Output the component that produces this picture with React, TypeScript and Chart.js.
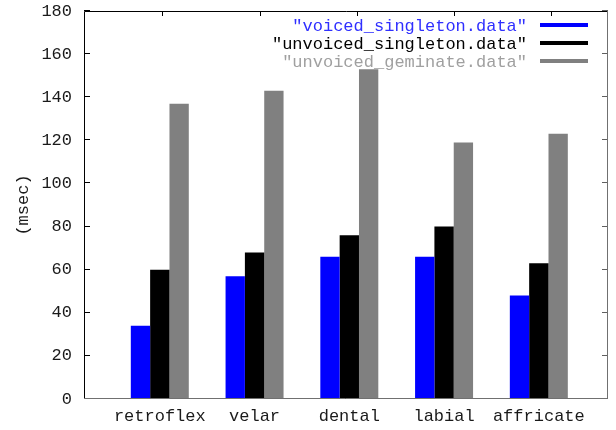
import React, { useEffect, useRef } from 'react';
import { Chart, registerables } from 'chart.js';

Chart.register(...registerables);

const categories = ['retroflex', 'velar', 'dental', 'labial', 'affricate'];
const seriesNames = ['"voiced_singleton.data"', '"unvoiced_singleton.data"', '"unvoiced_geminate.data"'];
const voicedSingleton = [34, 57, 66, 66, 48];
const unvoicedSingleton = [60, 68, 76, 80, 63];
const unvoicedGeminate = [137, 143, 153, 119, 123];
const yTickValues = [0, 20, 40, 60, 80, 100, 120, 140, 160, 180];
const seriesColors = ['#0000ff', '#000000', '#808080'];
const legendTextColors = ['#2f2fff', '#000000', '#a0a0a0'];
const topTickValues = [0, 1, 2, 3, 4];

const FONT = { family: '"Liberation Mono", "DejaVu Sans Mono", monospace', size: 17 };
const TEXT_COLOR = '#1a1a1a';

export default function App() {
  const ref = useRef<HTMLCanvasElement | null>(null);

  useEffect(() => {
    document.body.style.margin = '0';
    const canvas = ref.current;
    if (!canvas) return;

    const seriesValues = [voicedSingleton, unvoicedSingleton, unvoicedGeminate];

    const framePlugin = {
      id: 'gnuFrame',
      afterDatasetsDraw(chart: any) {
        const { ctx, chartArea } = chart;
        const { left, right, top, bottom } = chartArea;
        const yScale = chart.scales.y;
        const x2 = chart.scales.x2;
        ctx.save();
        ctx.lineWidth = 1;
        yTickValues.forEach((v) => {
          const py = Math.round(yScale.getPixelForValue(v)) - 0.5;
          ctx.strokeStyle = '#000000';
          ctx.beginPath();
          ctx.moveTo(left, py);
          ctx.lineTo(left + 6, py);
          ctx.stroke();
          ctx.strokeStyle = '#606060';
          ctx.beginPath();
          ctx.moveTo(right - 6, py);
          ctx.lineTo(right, py);
          ctx.stroke();
        });
        topTickValues.forEach((v) => {
          const px = Math.round(x2.getPixelForValue(v)) + 0.5;
          ctx.strokeStyle = '#000000';
          ctx.beginPath();
          ctx.moveTo(px, top);
          ctx.lineTo(px, top + 5);
          ctx.stroke();
        });
        ctx.strokeStyle = '#000000';
        ctx.beginPath();
        ctx.moveTo(left + 0.5, bottom);
        ctx.lineTo(left + 0.5, top + 0.5);
        ctx.lineTo(right, top + 0.5);
        ctx.stroke();
        ctx.strokeStyle = '#707070';
        ctx.beginPath();
        ctx.moveTo(left, bottom - 0.5);
        ctx.lineTo(right - 0.5, bottom - 0.5);
        ctx.lineTo(right - 0.5, top);
        ctx.stroke();
        ctx.restore();
      },
      afterDraw(chart: any) {
        const { ctx, chartArea } = chart;
        ctx.save();
        ctx.font = `${FONT.size}px ${FONT.family}`;
        ctx.textAlign = 'right';
        ctx.textBaseline = 'middle';
        chart.data.datasets.forEach((ds: any, i: number) => {
          const y = chartArea.top + 14 + i * 18;
          ctx.fillStyle = legendTextColors[i];
          ctx.fillText(ds.label, chartArea.right - 81, y + 1);
          ctx.strokeStyle = seriesColors[i];
          ctx.lineWidth = 4;
          ctx.beginPath();
          ctx.moveTo(chartArea.right - 68, y);
          ctx.lineTo(chartArea.right - 20, y);
          ctx.stroke();
        });
        ctx.restore();
      },
    };

    const chart = new Chart(canvas, {
      type: 'bar',
      data: {
        datasets: seriesNames.map((name, i) => ({
          label: name,
          data: categories.map((_, j) => ({ x: j, y: seriesValues[i][j] })),
          backgroundColor: seriesColors[i],
          borderWidth: 0,
          categoryPercentage: 0.612,
          barPercentage: 1,
        })),
      },
      options: {
        responsive: false,
        animation: false,
        devicePixelRatio: 1,
        layout: { padding: { top: 11, right: 8, left: 0, bottom: 0 } },
        plugins: {
          legend: { display: false },
          tooltip: { enabled: false },
        },
        scales: {
          x: {
            type: 'linear',
            position: 'bottom',
            offset: false,
            min: -0.8,
            max: 4.73,
            afterBuildTicks: (ax: any) => {
              ax.ticks = categories.map((_, i) => ({ value: i }));
            },
            afterFit: (s: any) => {
              s.height = 31;
              s.paddingLeft = 0;
              s.paddingRight = 0;
            },
            grid: { display: false, drawTicks: false, offset: false },
            border: { display: false },
            ticks: {
              autoSkip: false,
              maxRotation: 0,
              minRotation: 0,
              padding: 7,
              color: TEXT_COLOR,
              font: FONT,
              callback: (v: any) => categories[v] ?? '',
            },
          },
          x2: {
            type: 'linear',
            position: 'top',
            offset: false,
            min: -0.8056,
            max: 4.585,
            afterBuildTicks: (ax: any) => {
              ax.ticks = topTickValues.map((v) => ({ value: v }));
            },
            afterFit: (s: any) => {
              s.height = 0;
              s.paddingLeft = 0;
              s.paddingRight = 0;
            },
            grid: { display: false, drawTicks: false, offset: false },
            border: { display: false },
            ticks: { display: false },
          },
          y: {
            min: 0,
            max: 180,
            afterBuildTicks: (ax: any) => {
              ax.ticks = yTickValues.map((v) => ({ value: v }));
            },
            afterFit: (s: any) => {
              s.width = 84;
              s.paddingTop = 0;
              s.paddingBottom = 0;
            },
            grid: { display: false, drawTicks: false },
            border: { display: false },
            ticks: { padding: 12, color: TEXT_COLOR, font: FONT },
            title: {
              display: true,
              text: '(msec)',
              color: TEXT_COLOR,
              font: FONT,
              padding: { top: 13, bottom: 0 },
            },
          },
        },
      },
      plugins: [framePlugin],
    });

    return () => chart.destroy();
  }, []);

  return (
    <div style={{ width: 616, height: 430 }}>
      <canvas ref={ref} width={616} height={430} />
    </div>
  );
}
